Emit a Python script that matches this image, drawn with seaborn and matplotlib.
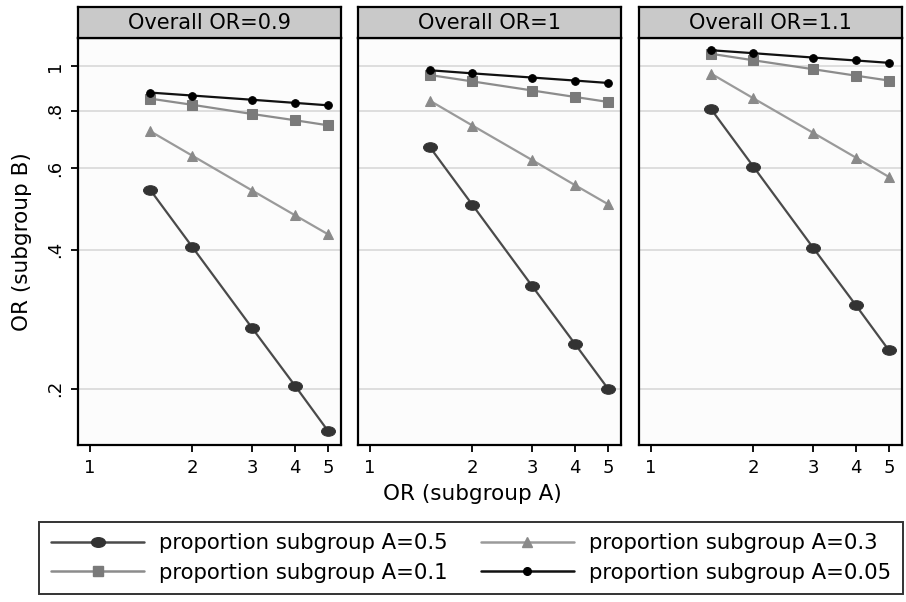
import numpy as np
import pandas as pd
import matplotlib
matplotlib.use("Agg")
import matplotlib.pyplot as plt
import seaborn as sns
from matplotlib.path import Path
from matplotlib.transforms import Affine2D
from matplotlib.lines import Line2D

sns.set_theme(style="white")
plt.rcParams['font.family'] = ['DejaVu Sans']
plt.rcParams['text.color'] = 'black'
plt.rcParams['axes.labelcolor'] = 'black'
plt.rcParams['xtick.color'] = 'black'
plt.rcParams['ytick.color'] = 'black'

panels = ["Overall OR=0.9", "Overall OR=1", "Overall OR=1.1"]
or_a = [1.5, 2, 3, 4, 5]
props = ["0.5", "0.3", "0.1", "0.05"]

# OR (subgroup B) per panel, per proportion
or_b_09 = {
    "0.5":  [0.540, 0.405, 0.270, 0.203, 0.162],
    "0.3":  [0.723, 0.639, 0.537, 0.475, 0.432],
    "0.1":  [0.850, 0.824, 0.787, 0.763, 0.744],
    "0.05": [0.876, 0.863, 0.845, 0.832, 0.822],
}
or_b_10 = {
    "0.5":  [0.667, 0.500, 0.333, 0.250, 0.200],
    "0.3":  [0.841, 0.743, 0.625, 0.552, 0.502],
    "0.1":  [0.956, 0.926, 0.885, 0.857, 0.836],
    "0.05": [0.979, 0.964, 0.944, 0.930, 0.919],
}
or_b_11 = {
    "0.5":  [0.807, 0.605, 0.403, 0.303, 0.242],
    "0.3":  [0.963, 0.851, 0.716, 0.633, 0.575],
    "0.1":  [1.063, 1.029, 0.984, 0.953, 0.930],
    "0.05": [1.082, 1.066, 1.043, 1.028, 1.016],
}
panel_data = [or_b_09, or_b_10, or_b_11]

y_ticks = [0.2, 0.4, 0.6, 0.8, 1.0]
y_ticklabels = [".2", ".4", ".6", ".8", "1"]
x_ticks = [1, 2, 3, 4, 5]

rows = []
for pname, d in zip(panels, panel_data):
    for p in props:
        for a, b in zip(or_a, d[p]):
            rows.append({"panel": pname, "prop": p, "ORA": a, "ORB": b})
df = pd.DataFrame(rows)

ellipse = Path.unit_circle().transformed(Affine2D().scale(1.45, 1.0))
styles = {
    "0.5":  dict(color="#4a4a4a", mfc="#333333", marker=ellipse, ms=10),
    "0.3":  dict(color="#9a9a9a", mfc="#8a8a8a", marker="^", ms=7.5),
    "0.1":  dict(color="#8c8c8c", mfc="#7a7a7a", marker="s", ms=7),
    "0.05": dict(color="#111111", mfc="#000000", marker="o", ms=5.5),
}

fig = plt.figure(figsize=(9.06, 6.02), dpi=100)
W, H = 906, 602
lefts = [78, 358, 639]
pw = 263
top_px, bot_px = 38, 445
strip_top = 7

for i, (pname, left) in enumerate(zip(panels, lefts)):
    ax = fig.add_axes([left / W, 1 - bot_px / H, pw / W, (bot_px - top_px) / H])
    ax.set_facecolor("#fcfcfc")
    sub = df[df["panel"] == pname]
    for p in props:
        s = styles[p]
        sns.lineplot(data=sub[sub["prop"] == p], x="ORA", y="ORB", ax=ax,
                     color=s["color"], marker=s["marker"], markersize=s["ms"],
                     markerfacecolor=s["mfc"], markeredgecolor=s["mfc"],
                     linewidth=1.6, legend=False, errorbar=None)
    ax.set_xscale("log")
    ax.set_yscale("log")
    ax.set_xlim(0.922, 5.46)
    ax.set_ylim(0.151, 1.15)
    ax.set_xticks(x_ticks)
    ax.set_xticklabels([str(t) for t in x_ticks])
    ax.set_yticks(y_ticks)
    ax.minorticks_off()
    ax.tick_params(axis="both", which="major", direction="out", length=5,
                   width=1.3, color="black", labelsize=13, pad=5,
                   bottom=True, left=True, labelcolor="black")
    if i == 0:
        ax.set_yticklabels(y_ticklabels, rotation=90, va="center")
        ax.set_ylabel("OR (subgroup B)", fontsize=15.5, labelpad=10)
    else:
        ax.set_yticklabels([])
        ax.tick_params(axis="y", left=False, length=0)
        ax.set_ylabel("")
    ax.set_xlabel("")
    ax.grid(axis="y", color="#dedede", linewidth=1.4)
    ax.set_axisbelow(True)
    for sp in ax.spines.values():
        sp.set_color("black")
        sp.set_linewidth(1.6)
    # strip header
    sax = fig.add_axes([left / W, 1 - top_px / H, pw / W, (top_px - strip_top) / H])
    sax.set_facecolor("#c9c9c9")
    sax.set_xticks([])
    sax.set_yticks([])
    for sp in sax.spines.values():
        sp.set_color("black")
        sp.set_linewidth(1.6)
    sax.text(0.5, 0.47, pname, ha="center", va="center", fontsize=15,
             transform=sax.transAxes)

fig.text(472 / W, 1 - 494 / H, "OR (subgroup A)", ha="center", va="center",
         fontsize=15.5)

handles = []
labels = []
for p in ["0.5", "0.1", "0.3", "0.05"]:
    s = styles[p]
    handles.append(Line2D([], [], color=s["color"], marker=s["marker"],
                          markersize=s["ms"], markerfacecolor=s["mfc"],
                          markeredgecolor=s["mfc"], linewidth=1.8))
    labels.append("proportion subgroup A=" + p)

leg = fig.legend(handles, labels, ncol=2, loc="center",
                 bbox_to_anchor=(471 / W, 1 - 558 / H), frameon=True,
                 fontsize=15.3, handlelength=4.4, columnspacing=1.55,
                 borderpad=0.55, labelspacing=0.45, fancybox=False,
                 handletextpad=0.7, borderaxespad=0)
leg.get_frame().set_edgecolor("black")
leg.get_frame().set_linewidth(1.4)

fig.savefig("out.png", dpi=100)
